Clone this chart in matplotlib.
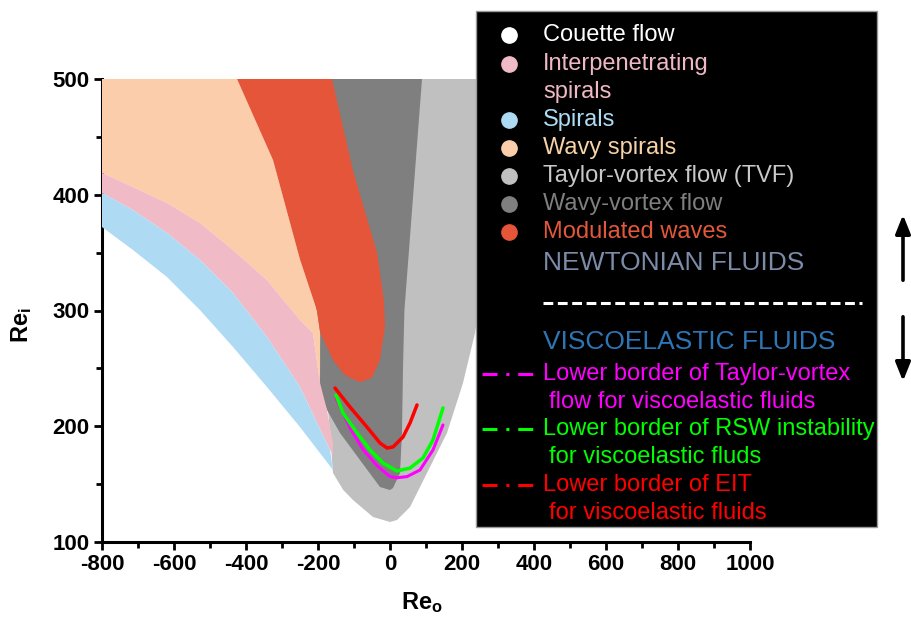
import matplotlib
matplotlib.use('Agg')
import matplotlib.pyplot as plt
from matplotlib.patches import Rectangle, FancyArrowPatch
from matplotlib.lines import Line2D

plt.rcParams['font.family'] = ['Liberation Sans', 'DejaVu Sans']
plt.rcParams['mathtext.fontset'] = 'custom'
plt.rcParams['mathtext.rm'] = 'Liberation Sans'
plt.rcParams['mathtext.bf'] = 'Liberation Sans:bold'

# ---------------- data (Re_o, Re_i) ----------------
# Taylor-vortex flow (light grey) region boundary
tvf_x = [-215, -190, -182, -166.7, -158.3, -130, -102.8, -47.2, 0, 19.4, 55.6, 102.8, 158.3, 202.8, 236.1, 250, 265]
tvf_y = [500, 300, 250, 194.2, 159.6, 145, 136.3, 121.6, 117.3, 119, 130.2, 159.6, 194.2, 237.4, 280.6, 309, 500]
# Wavy-vortex flow (dark grey) region boundary
wvf_x = [-260, -205, -200, -194.4, -175, -138.9, -83.3, -27.8, 0, 8.3, 27.8, 33.3, 36.1, 40, 88.9]
wvf_y = [500, 300, 280.6, 231.3, 214, 194.2, 170.8, 147.5, 144.9, 146.6, 159.6, 194.2, 250, 300, 500]
# small wavy-vortex patch in the upper-left corner
wvf2_x = [-800, -752, -770, -800]
wvf2_y = [500, 500, 492, 489]
# Modulated waves (red) region boundary
mw_x = [-425, -325, -250, -203, -194, -158, -125, -83, -50, -28, -14, -17, -36, -103, -161]
mw_y = [500, 430, 344, 300, 281, 257, 244, 238, 242, 257, 286, 309, 350, 421, 500]
# boundary between wavy spirals and interpenetrating spirals
ws_ips_x = [-800, -713.9, -619.4, -527.8, -436.1, -341.7, -250, -214, -194.4]
ws_ips_y = [418.8, 406.7, 392.9, 375.6, 352.3, 326.3, 291.8, 280.6, 237.4]
# right edge of wavy spirals (along modulated waves)
ws_right_x = [-425, -325, -250, -203, -194]
ws_right_y = [500, 430, 344, 300, 281]
# right edge of interpenetrating spirals
ips_right_x = [-194.4, -175, -158.3, -158.3]
ips_right_y = [237.4, 214, 185.5, 175.2]
# boundary between interpenetrating spirals and spirals
ips_sp_x = [-800, -713.9, -619.4, -527.8, -436.1, -341.7, -250, -166.7]
ips_sp_y = [401.5, 386.8, 366.9, 343.6, 315.1, 277.1, 233.9, 179.5]
# lower edge of spirals
sp_low_x = [-800, -713.9, -619.4, -527.8, -436.1, -341.7, -250, -158.3]
sp_low_y = [372.1, 352.3, 328.9, 300.4, 268.5, 233.9, 199.3, 162.2]

# viscoelastic borders
tv_visc_x = [-150, -110, -75, -36, 0, 20, 47.2, 83.3, 119.4, 147.2]
tv_visc_y = [224, 198, 180, 166, 156.5, 155.5, 156.5, 162.2, 179.5, 201.1]
rsw_visc_x = [-150, -130.6, -91.7, -55.6, -19.4, 19.4, 55.6, 91.7, 119.4, 147.2]
rsw_visc_y = [227, 211.4, 194.2, 179.5, 168.2, 161.3, 163.9, 172.6, 188.1, 215.8]
eit_visc_x = [-152.8, -111.1, -63.9, -27.8, -8.3, 8.3, 36.1, 55.6, 75]
eit_visc_y = [233, 216.6, 199.3, 185.5, 181.2, 182.1, 190.7, 202.8, 218.4]

x_ticks = [-800, -600, -400, -200, 0, 200, 400, 600, 800, 1000]
y_ticks = [100, 200, 300, 400, 500]

# ---------------- colours ----------------
C_TVF = '#c0c0c0'
C_WVF = '#7f7f7f'
C_MW = '#e4553a'
C_WS = '#fccdaa'
C_IPS = '#f0bbc6'
C_SP = '#aedbf3'

W, H = 912, 623
fig = plt.figure(figsize=(W / 100, H / 100), dpi=100)
ax = fig.add_axes([102 / W, 1 - 542 / H, 648 / W, 463 / H])

ax.fill(tvf_x, tvf_y, color=C_TVF, lw=0, zorder=1)
ax.fill(wvf_x, wvf_y, color=C_WVF, lw=0, zorder=2)
ax.fill(wvf2_x, wvf2_y, color=C_WVF, lw=0, zorder=2)
ax.fill([-800] + ws_right_x + ws_ips_x[::-1], [500] + ws_right_y + ws_ips_y[::-1],
        color=C_WS, lw=0, zorder=3)
ax.fill(ws_ips_x + ips_right_x + ips_sp_x[::-1], ws_ips_y + ips_right_y + ips_sp_y[::-1],
        color=C_IPS, lw=0, zorder=3)
ax.fill(ips_sp_x + sp_low_x[::-1], ips_sp_y + sp_low_y[::-1],
        color=C_SP, lw=0, zorder=3)
ax.fill(mw_x, mw_y, color=C_MW, lw=0, zorder=4)

ax.plot(tv_visc_x, tv_visc_y, color='#ff00ff', lw=2.2, zorder=5, solid_capstyle='round')
ax.plot(rsw_visc_x, rsw_visc_y, color='#00ff00', lw=2.5, zorder=6, solid_capstyle='round')
ax.plot(eit_visc_x, eit_visc_y, color='#ff0000', lw=2.5, zorder=7, solid_capstyle='round')

ax.set_xlim(-800, 1000)
ax.set_ylim(100, 500)
ax.set_xticks(x_ticks)
ax.set_yticks(y_ticks)
ax.set_xticks([v + 100 for v in x_ticks[:-1]], minor=True)
ax.set_yticks([v + 50 for v in y_ticks[:-1]], minor=True)
ax.set_xticklabels([str(v) for v in x_ticks])
ax.set_yticklabels([str(v) for v in y_ticks])
for s in ['top', 'right']:
    ax.spines[s].set_visible(False)
for s in ['left', 'bottom']:
    ax.spines[s].set_linewidth(2.2)
ax.tick_params(which='major', direction='out', length=6, width=2, labelsize=16, pad=3)
ax.tick_params(which='minor', direction='out', length=4, width=2)
for lab in ax.get_xticklabels() + ax.get_yticklabels():
    lab.set_fontweight('bold')
ax.set_facecolor('white')

fig.text(22 / W, 1 - 325 / H, r'$\mathbf{Re_i}$', fontsize=17, rotation=90, ha='center', va='center')
fig.text(422 / W, 1 - 603 / H, r'$\mathbf{Re_o}$', fontsize=17, ha='center', va='center')

# ---------------- legend box ----------------
def fx(px):
    return px / W


def fy(py):
    return 1 - py / H


fig.add_artist(Rectangle((fx(476), fy(527)), (877 - 476) / W, (527 - 11) / H,
                         transform=fig.transFigure, facecolor='black', edgecolor='#9a9a9a',
                         lw=1, zorder=10))

entries = [
    ('Couette flow', 'white', 'white', 35),
    ('Interpenetrating', C_IPS, '#efb9c4', 64),
    ('spirals', None, '#efb9c4', 92),
    ('Spirals', C_SP, '#aedcf4', 120),
    ('Wavy spirals', C_WS, '#f7d2a7', 148),
    ('Taylor-vortex flow (TVF)', C_TVF, '#c8c8c8', 176),
    ('Wavy-vortex flow', C_WVF, '#7f7f7f', 204),
    ('Modulated waves', C_MW, '#e2583a', 232),
]
for label, mcol, tcol, py in entries:
    if mcol is not None:
        fig.add_artist(Line2D([fx(509)], [fy(py)], transform=fig.transFigure, marker='o',
                              markersize=11, markerfacecolor=mcol, markeredgecolor=mcol,
                              linestyle='none', zorder=11))
    fig.text(fx(543), fy(py), label, color=tcol, fontsize=17, ha='left', va='center', zorder=12)

fig.text(fx(543), fy(263), 'NEWTONIAN FLUIDS', color='#7b8ba8', fontsize=19, ha='left',
         va='center', zorder=12)
fig.add_artist(Line2D([fx(543), fx(862)], [fy(303), fy(303)], transform=fig.transFigure,
                      color='white', lw=2.2, dashes=(3.2, 1.5), zorder=11))
fig.text(fx(543), fy(342), 'VISCOELASTIC FLUIDS', color='#2e75b6', fontsize=19, ha='left',
         va='center', zorder=12)

visc_entries = [
    ('Lower border of Taylor-vortex', 'flow for viscoelastic fluids', '#ff00ff', 374),
    ('Lower border of RSW instability', 'for viscoelastic fluds', '#00ff00', 429),
    ('Lower border of EIT', 'for viscoelastic fluids', '#ff0000', 485),
]
for l1, l2, col, py in visc_entries:
    fig.add_artist(Line2D([fx(482), fx(538)], [fy(py), fy(py)], transform=fig.transFigure,
                          color=col, lw=2.2, dashes=(4.9, 2.9, 1.0, 2.9), zorder=11))
    fig.text(fx(543), fy(py), l1, color=col, fontsize=17, ha='left', va='center', zorder=12)
    fig.text(fx(549), fy(py + 28), l2, color=col, fontsize=17, ha='left', va='center', zorder=12)

# ---------------- arrows ----------------
for y0, y1 in [(283, 212), (314, 384)]:
    fig.add_artist(FancyArrowPatch((fx(903), fy(y0)), (fx(903), fy(y1)),
                                   transform=fig.transFigure,
                                   arrowstyle='-|>,head_length=7,head_width=2.8',
                                   mutation_scale=1.6, lw=2.6, color='black', zorder=12))

fig.savefig('out.png', dpi=100)
